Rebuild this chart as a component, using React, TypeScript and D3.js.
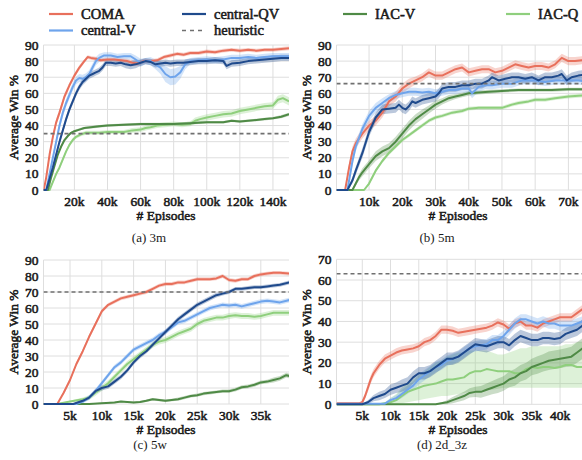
import * as d3 from 'd3'

// points: [episodes (k), win %, sd] or [episodes (k), win %, lo, hi]
type Pt = number[]

const methods = ['COMA', 'central-V', 'central-QV', 'IAC-V', 'IAC-Q']
const colors: Record<string, string> = {
    COMA: '#e8705c',
    'central-V': '#6ea4ec',
    'central-QV': '#1f4a8c',
    'IAC-V': '#4f8a46',
    'IAC-Q': '#8fcf7d',
}
const drawOrder = ['IAC-Q', 'IAC-V', 'COMA', 'central-V', 'central-QV']

// ---- (a) 3m
const coma3m: Pt[] = [[1.33,0,0],[1.5,0,0],[3,8,2],[5,22,2],[7,33,2],[9,42,2],[11,48,2],[14,58,2],[17,65,1.5],[20,71,1.5],[23,76,1.5],[26,80,1.2],[28,82.5,1.2],[30,82,1.2],[33,81.5,1.2],[36,80.5,1.2],[40,81,1.2],[44,81,1.2],[48,80.5,1.2],[52,80,1.5],[55,79,1.5],[58,78.5,1.5],[62,80,1.5],[66,80,1.2],[70,80.5,1.2],[74,82.5,1.2],[78,83.5,1.2],[82,84.5,1.2],[86,84,1.2],[90,85,1.2],[95,85,1.2],[100,86,1.2],[105,85.5,1.2],[110,86.5,1.2],[115,87,1.2],[120,86.5,1.2],[125,87,1.2],[130,86.5,1.2],[135,87,1.2],[140,87,1.2],[145,87.5,1.2],[149.7,88,1.2]]
const centralV3m: Pt[] = [[1.33,0,0],[3,0,0.5],[5,10,2],[7,20,2],[9,30,2.5],[11,40,2.5],[13,48,2.5],[15,54,2.5],[17,59,2.5],[19,64,2.5],[21,68,2.5],[23,69.5,2.5],[25,69,2.5],[27,70,2.5],[29,72,2.5],[31,76,2.5],[33,80,2.5],[35,82,2.5],[38,83.5,2],[42,83.5,2],[46,82.5,2],[50,83,2],[54,83,2],[57,81,2.5],[60,79,2.5],[63,80,2],[66,80,2.5],[69,78,3],[72,76,4],[75,72,5],[78,70,5],[81,70.5,5],[84,73,4],[87,78,3],[90,80,2],[95,80.5,2],[100,81,2],[105,80.5,2],[110,81,2],[115,82,2],[120,82,2],[125,82.5,2],[130,82,2],[135,82.5,2],[140,83,2],[145,83,2],[149.7,83,2]]
const centralQV3m: Pt[] = [[1.33,0,0],[3,0,0.5],[5,7,1.5],[7,14,2],[9,22,2],[11,30,2],[13,37,2],[15,44,2],[17,50,2],[19,55,2],[21,60,2],[23,64,2],[25,67,2],[27,69,2],[29,71,2],[31,72,2],[33,73,2],[35,74,2],[37,76,2],[39,79,2],[42,79,2],[45,78.5,2],[48,79,2],[51,78,2.5],[54,77.5,2.5],[57,78,2.5],[60,79,2],[63,80,2],[66,79.5,2],[69,78,2],[72,78.5,2],[75,79,2],[78,78.5,2],[82,79,2],[86,79,2],[90,79.5,2],[95,80,2],[100,80,2],[105,80.5,2],[110,80,2],[112,77,2],[115,78.5,2],[120,79,2],[125,80,2],[130,80.5,2],[135,81,2],[140,81.5,2],[145,82,2],[149.7,82,2]]
const iacV3m: Pt[] = [[1.33,0,0],[4,0,0.3],[6,8,1],[8,15,1],[10,22,1],[12,27,1],[14,31,1],[16,33.5,1],[18,35.5,0.8],[20,36.5,0.8],[23,37.5,0.8],[26,38.5,0.8],[30,39,0.8],[35,39.5,0.8],[40,40,0.8],[50,40.5,0.8],[60,41,0.8],[70,41,0.8],[80,41,0.8],[90,41.5,0.8],[100,42,0.8],[110,42,0.8],[115,43,0.8],[120,42.5,0.8],[125,43,0.8],[130,43.5,0.8],[135,44,0.8],[140,44.5,0.8],[145,45.5,1],[149.7,47,1]]
const iacQ3m: Pt[] = [[1.33,0,0],[5,0,0.3],[7,5,1],[9,10,1.2],[11,14,1.2],[13,19,1.2],[15,24,1.2],[17,28,1.2],[19,31,1.2],[21,33,1.2],[24,34.5,1.2],[27,35.5,1.2],[30,35.5,1.2],[35,35.5,1.2],[40,36,1.2],[45,36,1.2],[50,36,1.2],[55,37,1.5],[60,37.5,1.5],[63,38.5,1.5],[66,39,1.5],[70,40,1.5],[75,40.5,1.5],[80,41,1.5],[85,40.5,1.5],[90,41,1.5],[93,43,2],[96,44,2],[100,45,2],[105,46,2],[110,47,2],[115,47.5,2],[120,49,2],[125,50,2],[130,51,2],[135,52,2],[140,52.5,2],[143,56,2.5],[146,57,2.5],[149.7,55,2.5]]

// ---- (b) 5m
const coma5m: Pt[] = [[0.2,0,0],[2.8,0,0.3],[4,14,3],[5,24,3],[6,29,3],[8,35,3],[10,40,3],[12,43,3],[14,48,3],[16,55,3],[18,58,3],[20,63,3],[22,66,3],[24,68,2.5],[26,70,2.5],[28,73,2.5],[30,71,2.5],[32,71,2.5],[34,73,2.5],[36,75,2.5],[38,76,2.5],[40,73,2.5],[42,74,2.5],[44,75,2.5],[46,75,2.5],[48,73,2.5],[50,74,2.5],[52,76,2.5],[54,78,2.5],[56,77,2.5],[58,76,2.5],[60,77,2.5],[62,77,2.5],[64,76,2.5],[66,78,2.5],[68,82,2.5],[70,80,2.5],[72,80,2.5],[74,80.5,2.5],[76.5,80,2.5]]
const centralV5m: Pt[] = [[0.2,0,0],[3.5,0,0.3],[5,18,3],[6,27,3],[8,38,3],[10,46,3],[12,51,3],[14,54,3],[16,57,2.5],[18,59,2.5],[20,60,2.5],[22,61,2.5],[24,61,2.5],[26,60.5,2.5],[28,61,2.5],[30,60,2.5],[32,61,2.5],[34,62,2.5],[36,62,2.5],[38,63,2.5],[40,63,3],[41,60,3],[43,64,3],[45,65,2.5],[47,65,2.5],[50,66,2.5],[53,66,2.5],[56,68,2.5],[60,68,2.5],[63,67,2.5],[66,68,2.5],[70,68,2.5],[73,68,2.5],[76.5,67,2.5]]
const centralQV5m: Pt[] = [[0.2,0,0],[3.5,0,0.3],[5,6,2],[6,12,2.5],[8,23,3],[10,36,3],[12,45,3],[14,50,3],[16,50.5,3],[18,51,3],[19,53,3],[20,51,3],[21,50,3],[22,52,3],[23,55,3],[24,54,3],[26,56,3],[28,57,3],[30,58,3],[31,60,3],[32,63,3],[34,64,3],[36,64,3],[38,65,3],[40,65,3],[42,66,3],[44,66,3],[46,68,3],[47,70,3],[49,68,3],[51,69,3],[53,70,3],[55,70,3],[57,69,3],[59,70,3],[61,68,3],[63,70,3],[65,70,3],[67,71,3],[68,72,3],[69.5,68,3],[71,70,3],[73,71,3],[76.5,72,3]]
const iacV5m: Pt[] = [[0.2,0,0],[5,0,0.3],[6,4,1.5],[7,8,2],[8,11,2.5],[10,16,2.5],[12,21,3],[14,24,3],[16,26,3],[18,30,3],[20,35,3],[22,40,3],[24,44,3],[26,47,3],[28,50,2.5],[30,53,2.5],[32,55,2],[34,57,2],[36,58,1.5],[38,59,1.5],[40,60,1.5],[43,60.5,1.2],[46,61,1.2],[50,61.5,1],[55,62,1],[60,62,1],[65,62,1],[70,62.5,1],[76.5,62.5,1]]
const iacQ5m: Pt[] = [[0.2,0,0],[8.5,0,0.3],[10,4,1],[12,12,1.2],[14,18,1.2],[16,23,1.2],[18,27,1.2],[20,31,1.2],[22,34,1.2],[24,37,1.2],[26,40,1.2],[28,43,1.2],[30,45,1.2],[32,46,1.2],[35,48,1.2],[38,49,1.2],[40,50.5,1.2],[43,51,1.2],[46,51,1.2],[50,51,1.2],[53,53,1.2],[55,54,1.2],[58,55,1.2],[60,56,1.2],[63,56,1.2],[66,57,1.2],[70,58,1.2],[73,58.5,1.2],[76.5,59,1.2]]

// ---- (c) 5w
const coma5w: Pt[] = [[0.83,0,0],[3,0,0.3],[4,7,1],[5,15,1.2],[6,25,1.2],[7,33,1.2],[8,42,1.2],[9,50,1.2],[10,58,1.2],[11,62,1.2],[12,64,1.2],[13,66,1.2],[14,67,1.2],[15,68,1.2],[16,69,1.2],[17,70,1.2],[18,72,1.2],[19,74,1.2],[20,75,1.2],[21,75,1.2],[22,76,1.2],[23,76,1.2],[24,77,1.2],[25,78,1.2],[26,78,1.2],[27,78,1.2],[28,78.5,1.2],[29,80,1.2],[30,77.5,1.2],[31,77,1.2],[32,78,1.2],[33,78,1.2],[34,80,1.2],[35,81,1.2],[36,81.5,1.2],[37,82,1.2],[38,82,1.2],[39.5,81.5,1.2]]
const centralV5w: Pt[] = [[0.83,0,0],[6,0,0.3],[7,1.5,1],[8,4,1.5],[9,8,1.5],[10,13,1.5],[11,18,1.5],[12,23,1.5],[13,26,1.5],[14,30,1.5],[15,34,1.5],[16,36,1.5],[17,38,1.5],[18,40,1.5],[19,43,1.5],[20,45,1.5],[21,48,1.5],[22,51,1.5],[23,52,1.5],[24,54,1.5],[25,56,1.5],[26,58,1.5],[27,60,1.5],[28,61,1.5],[29,62,1.5],[30,61.5,1.5],[31,62,1.5],[32,61,1.5],[33,62,1.5],[34,63,1.5],[35,64,1.5],[36,64.5,1.5],[37,64,1.5],[38,63.5,1.5],[39.5,65,1.5]]
const centralQV5w: Pt[] = [[0.83,0,0],[5.5,0,0.3],[7,2,1],[8,4,1.2],[9,8,1.5],[10,10,1.5],[11,11,1.5],[12,14,1.5],[13,17,1.5],[14,21,1.5],[15,26,1.5],[16,30,1.5],[17,33,1.5],[18,37,1.5],[19,41,1.5],[20,45,1.5],[21,49,1.5],[22,53,1.5],[23,56,1.5],[24,59,1.5],[25,62,1.5],[26,64,1.5],[27,66,1.5],[28,68,1.5],[29,69,1.2],[30,70,1.2],[31,72,1.2],[32,72,1.2],[33,72.5,1.2],[34,73,1.2],[35,73,1.2],[36,73.5,1.2],[37,74,1.2],[38,74.5,1.2],[39.5,76,1.2]]
const iacV5w: Pt[] = [[0.83,0,0],[8,0,0.3],[10,0.5,0.5],[12,1,0.5],[13,1.5,0.6],[15,1,0.6],[16,1.2,0.6],[17,2,0.8],[18,3,0.8],[19,2.5,0.8],[20,2,0.8],[21,2.5,0.8],[22,3,1],[23,4,1],[24,5,1],[25,5.5,1],[26,6.5,1],[27,7,1],[28,7.5,1],[29,8,1],[30,8,1],[31,9,1.2],[32,10.5,1.2],[33,11,1.2],[34,12,1.2],[35,13.5,1.2],[36,14,1.2],[37,15,1.5],[38,16,1.5],[39,18,1.5],[39.5,17.5,1.5]]
const iacQ5w: Pt[] = [[0.83,0,0],[3,0,0.3],[5,1.5,0.5],[7,3,1],[8,4,1.5],[9,7,1.8],[10,10,1.8],[11,13,1.8],[12,17,1.8],[13,21,1.8],[14,25,1.8],[15,28,1.8],[16,31,1.8],[17,34,1.8],[18,37,1.8],[19,39,1.8],[20,40,1.8],[21,42,1.8],[22,44,1.8],[23,45.5,1.8],[24,47,1.8],[25,50,1.8],[26,52,1.8],[27,53,1.8],[28,54,1.8],[29,54,1.8],[30,55,1.8],[31,55.5,1.8],[32,55,1.8],[33,55,1.8],[34,54.5,1.8],[35,55,1.8],[36,56,1.8],[37,57,1.8],[38,57,1.8],[39.5,57,1.8]]

// ---- (d) 2d_3z
const coma2d: Pt[] = [[0.44,0.5,0.3],[4.5,0.5,0.3],[5,1,0.8],[5.5,4,1.5],[6,8,2],[6.5,12,2],[7,15,2],[8,19,2],[9,22,2],[10,23.5,2],[11,25,2],[12,26,2],[13,26.5,2],[14,27,2],[15,28,2],[16,30,2],[17,31,2],[18,33,2],[19,36,2],[20,36,2],[21,35.5,2],[22,34.5,2],[23,35,2],[24,35.5,2],[25,36,2],[26,36.5,2],[27,37,2],[28,38,2],[29,39.5,2],[30,38.5,2],[31,36.5,2],[32,39,2],[33,40,2],[34,38,2],[35,38,2],[36,37,2],[37,39,2],[38,40,2],[39,41,2],[40,42,2],[41,42,2],[42,42,2],[43,44,2],[44,46,2],[45.3,47,2]]
const centralV2d: Pt[] = [[0.44,0.3,0.2],[9,0.3,0.3],[10,2,1],[11,3,1.5],[12,5,2],[13,7,2],[14,9,2],[15,12,2.5],[16,14,2.5],[17,16,2.5],[18,18,2.5],[19,19,2.5],[20,21,2.5],[21,22,2.5],[22,23,2.5],[23,25,2.5],[24,27,2.5],[25,28,2.5],[26,28.5,2.5],[27,29,2.5],[28,31,2.5],[29,31,2.5],[30,33,2.5],[31,36,2.5],[32,39,2.5],[33,41,2.5],[34,41,2.5],[35,40,2.5],[36,39,2.5],[37,40,2.5],[38,39,2.5],[39,39,2.5],[40,38,2.5],[41,38,2.5],[42,38,2.5],[43,39,2.5],[44,40,2.5],[45.3,41,2.5]]
const centralQV2d: Pt[] = [[0.44,0,0],[5,0,0.3],[6,1,1],[7,3,1.5],[8,4,2],[9,5,2],[10,7,2.5],[11,8,2.5],[12,9,3],[13,10,3],[14,13,3],[15,15,3],[16,15,3],[17,16,3],[18,18,3],[19,20,3],[20,22,3],[21,22,3],[22,23,3],[23,25,3],[24,27,3],[25,29,3],[26,28.5,3],[27,28,3],[28,29,3],[29,30,3],[30,30,3],[31,28.5,3],[32,31,3],[33,33,3],[34,32,3],[35,31,3],[36,31,3],[37,32,3],[38,32,3],[39,31.5,3],[40,32,3],[41,34,3],[42,35,3],[43,36,3],[44,38,3],[45.3,38,3]]
const iacV2d: Pt[] = [[0.44,0,0],[18,0,0.2],[19,0.5,0.5],[20,1,1],[21,2,1.5],[22,3,1.8],[23,4,2],[24,5.5,2.2],[25,6,2.5],[26,6,2.8],[27,7,3],[28,8,3.2],[29,9,3.5],[30,10,3.5],[31,12,3.8],[32,13,4],[33,15,4],[34,16,4],[35,18,4],[36,19,4.2],[37,20,4.2],[38,21,4.5],[39,21.5,4.5],[40,22,4.5],[41,22.5,4.5],[42,23,4.8],[43,25,5],[44,27,5],[45.3,28,5]]
const iacQ2d: Pt[] = [[0.44,0,0,0],[8,0,0,0.3],[9,0.5,0,1],[10,1,0,3],[11,2,0,5],[12,4,0.5,8],[13,6,1,10],[14,7,1.5,12],[15,8,2,14],[16,9,2.5,16],[17,9.5,3,18],[18,10,3.5,20],[19,11,4,21],[20,12,4,23],[21,12,4.5,24],[22,12.5,5,25],[23,13,5.5,25],[24,15,6,26],[25,16,6,26],[26,16,6.5,26],[27,17,7,26],[28,16.5,7,25],[29,16,7.5,24],[30,16,8,24],[31,16,8,25],[32,15,8,26],[33,15,8,27],[34,17,8,27],[35,18,8,28],[36,17.5,8,28],[37,18,8,28],[38,18,8,28],[39,17.5,8,28],[40,18,8,28],[41,19,8,29],[42,19,8,29],[43,18,8,30],[44,18,8,30],[45.3,18.5,8,31]]

const panels = [
    {
        caption: '(a) 3m', heuristic: 35, yMax: 90, xDomain: [1.33, 149.7], xTicks: [20, 40, 60, 80, 100, 120, 140],
        left: 43.5, right: 289, top: 45, bottom: 190, labelX: 18, labelMid: 166, capX: 149, capY: 242,
        series: { COMA: coma3m, 'central-V': centralV3m, 'central-QV': centralQV3m, 'IAC-V': iacV3m, 'IAC-Q': iacQ3m },
    },
    {
        caption: '(b) 5m', heuristic: 66, yMax: 90, xDomain: [0.2, 76.5], xTicks: [10, 20, 30, 40, 50, 60, 70],
        left: 336.5, right: 590, top: 45, bottom: 190, labelX: 311, labelMid: 458, capX: 437, capY: 242,
        series: { COMA: coma5m, 'central-V': centralV5m, 'central-QV': centralQV5m, 'IAC-V': iacV5m, 'IAC-Q': iacQ5m },
    },
    {
        caption: '(c) 5w', heuristic: 70, yMax: 90, xDomain: [0.83, 39.43], xTicks: [5, 10, 15, 20, 25, 30, 35],
        left: 43.5, right: 289, top: 260, bottom: 404, labelX: 18, labelMid: 166, capX: 150, capY: 449,
        series: { COMA: coma5w, 'central-V': centralV5w, 'central-QV': centralQV5w, 'IAC-V': iacV5w, 'IAC-Q': iacQ5w },
    },
    {
        caption: '(d) 2d_3z', heuristic: 63, yMax: 70, xDomain: [0.44, 45.3], xTicks: [5, 10, 15, 20, 25, 30, 35, 40],
        left: 336.5, right: 590, top: 259.3, bottom: 404.3, labelX: 311, labelMid: 458, capX: 442, capY: 449,
        series: { COMA: coma2d, 'central-V': centralV2d, 'central-QV': centralQV2d, 'IAC-V': iacV2d, 'IAC-Q': iacQ2d },
    },
]

const legendPos: Record<string, number[]> = {
    COMA: [49, 14],
    'central-V': [49, 30.5],
    'central-QV': [182, 14],
    heuristic: [182, 30.5],
    'IAC-V': [343, 14],
    'IAC-Q': [506, 14],
}

// bold faces fall back to a sans here, so thicken the regular serif with a thin stroke
const css = `
text.b { font-family: "Liberation Serif", serif; font-size: 13.5px; stroke: #1a1a1a; stroke-width: 0.55px; }
text.leg { font-size: 14.5px; }
text.cap { font-family: "Liberation Serif", serif; font-size: 13px; }
`
const lo = (d: Pt) => (d.length > 3 ? d[2] : d[1] - d[2])
const hi = (d: Pt) => (d.length > 3 ? d[3] : d[1] + d[2])

function Panel({ p, idx }: { p: any; idx: number }) {
    const x = d3.scaleLinear().domain(p.xDomain).range([p.left, p.right])
    const y = d3.scaleLinear().domain([0, p.yMax]).range([p.bottom, p.top])
    const yTicks = d3.range(0, p.yMax + 1, 10)
    const line = d3.line<Pt>().x((d) => x(d[0])).y((d) => y(d[1]))
    const area = d3
        .area<Pt>()
        .x((d) => x(d[0]))
        .y0((d) => y(Math.max(0, lo(d))))
        .y1((d) => y(hi(d)))
    const clipId = 'clip' + idx
    const visRight = Math.min(p.right, 582)
    return (
        <g>
            <defs>
                <clipPath id={clipId}>
                    <rect x={p.left} y={p.top - 3} width={p.right - p.left} height={p.bottom - p.top + 5} />
                </clipPath>
            </defs>
            {yTicks.map((t) => (
                <line key={'gy' + t} x1={p.left} x2={visRight} y1={y(t)} y2={y(t)} stroke="#dedede" strokeWidth={1} />
            ))}
            {p.xTicks.map((t: number) => (
                <line key={'gx' + t} x1={x(t)} x2={x(t)} y1={p.top} y2={p.bottom} stroke="#dedede" strokeWidth={1} />
            ))}
            <line x1={p.left} x2={p.left} y1={p.top} y2={p.bottom} stroke="#dedede" strokeWidth={1} />
            <g clipPath={`url(#${clipId})`}>
                {drawOrder.map((m) => (
                    <path key={'a' + m} d={area(p.series[m]) || ''} fill={colors[m]} fillOpacity={0.3} stroke="none" />
                ))}
                {drawOrder.map((m) => (
                    <path key={'l' + m} d={line(p.series[m]) || ''} fill="none" stroke={colors[m]} strokeWidth={2} strokeLinejoin="round" />
                ))}
                <line x1={p.left} x2={p.right} y1={y(p.heuristic)} y2={y(p.heuristic)} stroke="#707070" strokeWidth={1.6} strokeDasharray="4,3" />
            </g>
            {yTicks.map((t) => (
                <text key={'ty' + t} className="b" x={p.left - 5} y={y(t) + 4.5} textAnchor="end" fill="#1a1a1a">
                    {t}
                </text>
            ))}
            {p.xTicks.map((t: number) => (
                <text key={'tx' + t} className="b" x={x(t)} y={p.bottom + 16} textAnchor="middle" fill="#1a1a1a">
                    {t + 'k'}
                </text>
            ))}
            <text className="b" x={p.labelMid} y={p.bottom + 29.5} textAnchor="middle" fill="#1a1a1a">
                # Episodes
            </text>
            <text
                className="b"
                transform={`translate(${p.labelX},${(p.top + p.bottom) / 2}) rotate(-90)`}
                textAnchor="middle"
                fill="#1a1a1a"
            >
                Average Win %
            </text>
            <text className="cap" x={p.capX} y={p.capY} textAnchor="middle" fill="#1a1a1a">
                {p.caption}
            </text>
        </g>
    )
}

export default function App() {
    const legendItems = [...methods.slice(0, 3), 'heuristic', ...methods.slice(3)]
    return (
        <svg width={582} height={460} style={{ position: 'absolute', left: 0, top: 0, background: '#fff' }}>
            <style>{css}</style>
            <rect width={582} height={460} fill="#fff" />
            {panels.map((p, i) => (
                <Panel key={p.caption} p={p} idx={i} />
            ))}
            {legendItems.map((m) => {
                const [lx, ly] = legendPos[m]
                const dashed = m === 'heuristic'
                return (
                    <g key={m}>
                        <line
                            x1={lx}
                            x2={lx + 24}
                            y1={ly}
                            y2={ly}
                            stroke={dashed ? '#707070' : colors[m]}
                            strokeWidth={dashed ? 1.6 : 2.2}
                            strokeDasharray={dashed ? '4,4' : undefined}
                        />
                        <text className="b leg" x={lx + 32} y={ly + 4.5} fill="#1a1a1a">
                            {m}
                        </text>
                    </g>
                )
            })}
        </svg>
    )
}
